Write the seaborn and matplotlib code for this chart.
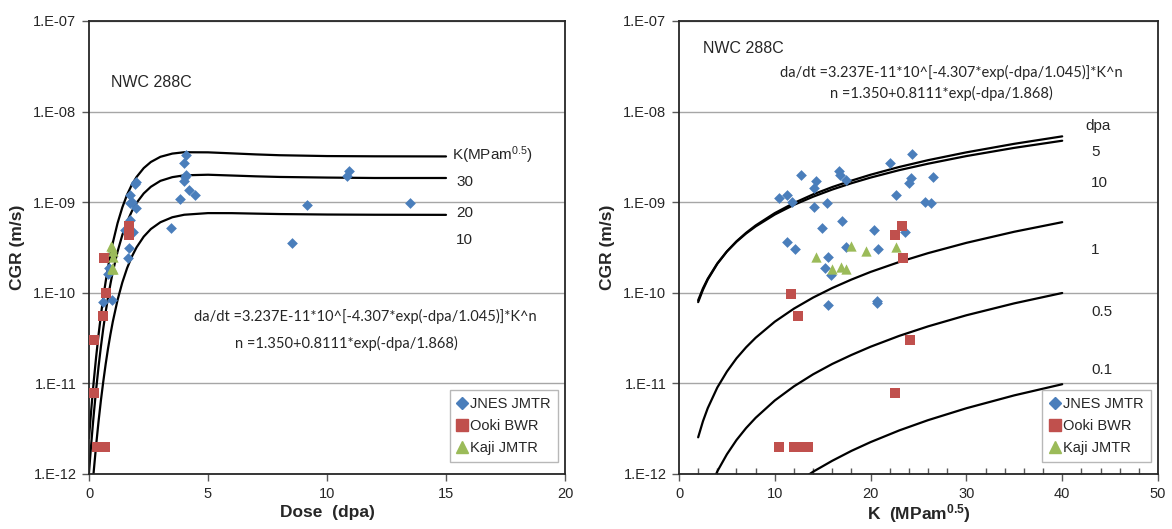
import numpy as np
import pandas as pd
import matplotlib
matplotlib.use("Agg")
import matplotlib.pyplot as plt
from matplotlib.ticker import MultipleLocator, FixedLocator, FuncFormatter, NullLocator
from matplotlib.lines import Line2D
import seaborn as sns

sns.set_style("white")
plt.rcParams["font.family"] = ["Liberation Sans", "DejaVu Sans"]
plt.rcParams["mathtext.fontset"] = "custom"
plt.rcParams["mathtext.rm"] = "Liberation Sans"
plt.rcParams["mathtext.bf"] = "Liberation Sans:bold"
plt.rcParams["mathtext.default"] = "regular"

# ---------------- scatter data: CGR vs dose ----------------
jnes_dose = [4.09, 3.98, 4.09, 4.02, 3.98, 4.20, 4.47, 3.84, 3.43, 1.96, 1.93, 1.74, 1.71, 1.82, 1.96,
             1.71, 1.50, 1.85, 1.68, 1.65, 0.80, 0.84, 0.59, 0.97, 8.55, 9.18, 10.86, 10.92, 13.47]
jnes_cgr_d = [3.36e-9, 2.69e-9, 2.0e-9, 1.89e-9, 1.7e-9, 1.37e-9, 1.19e-9, 1.08e-9, 5.2e-10, 1.66e-9, 1.6e-9,
              1.19e-9, 9.7e-10, 1.0e-9, 8.7e-10, 6.3e-10, 4.9e-10, 4.7e-10, 3.1e-10, 2.4e-10, 1.6e-10, 1.9e-10,
              7.9e-11, 8.3e-11, 3.56e-10, 9.4e-10, 1.97e-9, 2.2e-9, 9.8e-10]
ooki_dose = [1.67, 1.67, 0.62, 0.70, 0.59, 0.20, 0.20, 0.34, 0.45, 0.57, 0.69]
ooki_cgr_d = [5.4e-10, 4.3e-10, 2.4e-10, 1.0e-10, 5.6e-11, 3.05e-11, 7.9e-12, 2e-12, 2e-12, 2e-12, 2e-12]
kaji_dose = [0.94, 0.96, 1.01, 1.01, 0.98, 0.98, 0.99]
kaji_cgr_d = [3.3e-10, 3.2e-10, 2.9e-10, 2.5e-10, 1.9e-10, 1.84e-10, 1.84e-10]

# ---------------- scatter data: CGR vs K ----------------
jnes_k = [10.42, 11.26, 11.75, 12.73, 14.27, 14.12, 14.12, 15.49, 16.72, 16.79, 17.42, 17.0, 14.9, 11.26,
          12.1, 15.53, 15.25, 15.88, 17.42, 20.39, 20.78, 22.03, 24.34, 22.66, 24.24, 24.06, 23.57, 15.53,
          20.63, 20.63, 25.63, 26.33, 26.5]
jnes_cgr_k = [1.11e-9, 1.2e-9, 1.0e-9, 2.0e-9, 1.73e-9, 1.43e-9, 8.9e-10, 9.7e-10, 2.2e-9, 2.02e-9, 1.75e-9,
              6.2e-10, 5.25e-10, 3.6e-10, 3.05e-10, 2.47e-10, 1.87e-10, 1.59e-10, 3.2e-10, 4.9e-10, 3.05e-10,
              2.72e-9, 3.44e-9, 1.2e-9, 1.85e-9, 1.63e-9, 4.66e-10, 7.4e-11, 8.1e-11, 7.8e-11, 1.0e-9,
              9.7e-10, 1.9e-9]
ooki_k = [23.29, 22.52, 23.36, 11.65, 12.38, 24.13, 22.56, 10.49, 12.0, 12.76, 13.5]
ooki_cgr_k = [5.4e-10, 4.3e-10, 2.43e-10, 9.8e-11, 5.5e-11, 3.05e-11, 7.8e-12, 2e-12, 2e-12, 2e-12, 2e-12]
kaji_k = [14.27, 16.0, 16.9, 17.4, 17.94, 19.5, 22.66]
kaji_cgr_k = [2.5e-10, 1.84e-10, 1.94e-10, 1.84e-10, 3.3e-10, 2.88e-10, 3.2e-10]

# ---------------- model curves ----------------
dose_grid = [0, 0.05, 0.1, 0.15, 0.2, 0.3, 0.4, 0.5, 0.6, 0.7, 0.8, 0.9, 1.0, 1.2, 1.4, 1.6, 1.8, 2.0,
             2.3, 2.6, 3.0, 3.5, 4.0, 5, 6, 7, 8, 10, 12, 15]
cgr_k30 = [2.49e-12, 3.67e-12, 5.32e-12, 7.57e-12, 1.06e-11, 1.96e-11, 3.42e-11, 5.65e-11, 8.86e-11, 1.33e-10,
           1.91e-10, 2.65e-10, 3.56e-10, 5.87e-10, 8.76e-10, 1.21e-09, 1.56e-09, 1.9e-09, 2.38e-09, 2.78e-09,
           3.17e-09, 3.44e-09, 3.56e-09, 3.55e-09, 3.46e-09, 3.37e-09, 3.3e-09, 3.23e-09, 3.21e-09, 3.2e-09]
cgr_k20 = [1.03e-12, 1.54e-12, 2.25e-12, 3.23e-12, 4.55e-12, 8.57e-12, 1.52e-11, 2.54e-11, 4.04e-11, 6.13e-11,
           8.93e-11, 1.25e-10, 1.7e-10, 2.85e-10, 4.34e-10, 6.07e-10, 7.94e-10, 9.84e-10, 1.25e-09, 1.48e-09,
           1.72e-09, 1.89e-09, 1.98e-09, 2.01e-09, 1.97e-09, 1.93e-09, 1.9e-09, 1.87e-09, 1.85e-09, 1.85e-09]
cgr_k10 = [2.31e-13, 3.5e-13, 5.19e-13, 7.54e-13, 1.08e-12, 2.08e-12, 3.78e-12, 6.48e-12, 1.05e-11, 1.63e-11,
           2.43e-11, 3.47e-11, 4.8e-11, 8.33e-11, 1.3e-10, 1.87e-10, 2.51e-10, 3.18e-10, 4.17e-10, 5.06e-10,
           6.01e-10, 6.82e-10, 7.27e-10, 7.58e-10, 7.57e-10, 7.48e-10, 7.4e-10, 7.31e-10, 7.27e-10, 7.25e-10]

k_grid = [2, 2.5, 3, 4, 5, 6, 7, 8, 10, 12, 14, 16, 18, 20, 23, 26, 30, 35, 40]
cgr_d5 = [7.89e-11, 1.08e-10, 1.4e-10, 2.09e-10, 2.86e-10, 3.7e-10, 4.59e-10, 5.54e-10, 7.58e-10, 9.8e-10,
          1.22e-09, 1.47e-09, 1.73e-09, 2.01e-09, 2.45e-09, 2.91e-09, 3.55e-09, 4.41e-09, 5.33e-09]
cgr_d10 = [8.27e-11, 1.12e-10, 1.43e-10, 2.11e-10, 2.86e-10, 3.66e-10, 4.51e-10, 5.4e-10, 7.31e-10, 9.35e-10,
           1.15e-09, 1.38e-09, 1.62e-09, 1.87e-09, 2.26e-09, 2.66e-09, 3.23e-09, 3.98e-09, 4.77e-09]
cgr_d1 = [2.54e-12, 3.82e-12, 5.33e-12, 9.01e-12, 1.35e-11, 1.89e-11, 2.5e-11, 3.19e-11, 4.8e-11, 6.69e-11,
          8.86e-11, 1.13e-10, 1.4e-10, 1.7e-10, 2.19e-10, 2.74e-10, 3.56e-10, 4.72e-10, 6.02e-10]
cgr_d05 = [2.72e-13, 4.22e-13, 6.04e-13, 1.07e-12, 1.65e-12, 2.37e-12, 3.21e-12, 4.17e-12, 6.48e-12, 9.28e-12,
           1.26e-11, 1.64e-11, 2.06e-11, 2.54e-11, 3.35e-11, 4.26e-11, 5.65e-11, 7.65e-11, 9.95e-11]
cgr_d01 = [1.71e-14, 2.75e-14, 4.05e-14, 7.44e-14, 1.19e-13, 1.76e-13, 2.44e-13, 3.23e-13, 5.19e-13, 7.63e-13,
           1.06e-12, 1.4e-12, 1.8e-12, 2.25e-12, 3.03e-12, 3.93e-12, 5.32e-12, 7.38e-12, 9.79e-12]

k_labels = ["30", "20", "10"]
dpa_labels = ["5", "10", "1", "0.5", "0.1"]
series_labels = ["JNES JMTR", "Ooki BWR", "Kaji JMTR"]
formula_1 = "da/dt =3.237E-11*10^[-4.307*exp(-dpa/1.045)]*K^n"
formula_2 = "n =1.350+0.8111*exp(-dpa/1.868)"

BLUE, RED, GREEN = "#4A7EBB", "#C0504D", "#9BBB59"

fig = plt.figure(figsize=(11.72, 5.29), dpi=100)
ax1 = fig.add_axes([89 / 1172, 1 - 474 / 529, 476 / 1172, 453 / 529])
ax2 = fig.add_axes([679 / 1172, 1 - 474 / 529, 479 / 1172, 453 / 529])

for ax in (ax1, ax2):
    ax.set_yscale("log")

for vals in (cgr_k30, cgr_k20, cgr_k10):
    sns.lineplot(x=dose_grid, y=vals, ax=ax1, color="black", lw=1.6, sort=False, estimator=None)
for vals in (cgr_d5, cgr_d10, cgr_d1, cgr_d05, cgr_d01):
    sns.lineplot(x=k_grid, y=vals, ax=ax2, color="black", lw=1.6, sort=False, estimator=None)


def scatter(ax, x, y, marker, color, s):
    sns.scatterplot(x=x, y=y, ax=ax, marker=marker, color=color, s=s, linewidth=0, zorder=3)


scatter(ax1, jnes_dose, jnes_cgr_d, "D", BLUE, 30)
scatter(ax1, ooki_dose, ooki_cgr_d, "s", RED, 55)
scatter(ax1, kaji_dose, kaji_cgr_d, "^", GREEN, 55)
scatter(ax2, jnes_k, jnes_cgr_k, "D", BLUE, 30)
scatter(ax2, ooki_k, ooki_cgr_k, "s", RED, 55)
scatter(ax2, kaji_k, kaji_cgr_k, "^", GREEN, 55)

fmt = FuncFormatter(lambda v, p: "1.E%03d" % int(round(np.log10(v))))
for ax in (ax1, ax2):
    ax.set_ylim(1e-12, 1e-7)
    ax.yaxis.set_major_locator(FixedLocator([1e-12, 1e-11, 1e-10, 1e-9, 1e-8, 1e-7]))
    ax.yaxis.set_minor_locator(NullLocator())
    ax.yaxis.set_major_formatter(fmt)
    ax.grid(axis="y", which="major", color="#A6A6A6", lw=1.0)
    ax.grid(axis="x", visible=False)
    for sp in ax.spines.values():
        sp.set_color("#262626")
        sp.set_linewidth(1.3)
    ax.tick_params(axis="both", which="major", direction="out", length=5, width=1, color="#595959",
                   labelsize=10.5, labelcolor="#262626", bottom=True, left=True, pad=4)
    ax.set_ylabel("CGR (m/s)", fontsize=12.5, fontweight="bold", labelpad=6)
    handles = [Line2D([], [], marker="D", color=BLUE, ls="", ms=6),
               Line2D([], [], marker="s", color=RED, ls="", ms=8),
               Line2D([], [], marker="^", color=GREEN, ls="", ms=8)]
    ax.legend(handles, series_labels, loc="lower right",
              bbox_to_anchor=(0.985, 0.026), fontsize=10.5, frameon=True, fancybox=False,
              edgecolor="#A6A6A6", handlelength=0.7, handletextpad=0.2, borderpad=0.5,
              labelspacing=0.55, borderaxespad=0)

ax1.set_xlim(0, 20)
ax1.xaxis.set_major_locator(MultipleLocator(5))
ax1.set_xlabel("Dose  (dpa)", fontsize=12.5, fontweight="bold", labelpad=3)
ax2.set_xlim(0, 50)
ax2.xaxis.set_major_locator(MultipleLocator(10))
ax2.xaxis.set_minor_locator(MultipleLocator(2))
ax2.tick_params(axis="x", which="minor", direction="in", length=4, width=1, color="#595959", bottom=True)
ax2.set_xlabel(r"K  (MPam$^{\mathbf{0.5}}$)", fontsize=12.5, fontweight="bold", labelpad=1)

t1 = ax1.transAxes
t2 = ax2.transAxes
FORM = ["Lato", "DejaVu Sans"]
ax1.text(0.046, 0.865, "NWC 288C", transform=t1, fontsize=11.5, va="center", ha="left")
ax1.text(0.763, 0.704, r"K(MPam$^{0.5}$)", transform=t1, fontsize=11, va="center", ha="left")
for lab, y in zip(k_labels, [0.645, 0.576, 0.517]):
    ax1.text(0.771, y, lab, transform=t1, fontsize=11, va="center", ha="left")
ax1.text(0.58, 0.347, formula_1, transform=t1, fontsize=10.5, va="center", ha="center", family=FORM)
ax1.text(0.54, 0.289, formula_2, transform=t1, fontsize=10.5, va="center", ha="center", family=FORM)

ax2.text(0.050, 0.94, "NWC 288C", transform=t2, fontsize=11.5, va="center", ha="left")
ax2.text(0.568, 0.887, formula_1, transform=t2, fontsize=10.5, va="center", ha="center", family=FORM)
ax2.text(0.547, 0.839, formula_2, transform=t2, fontsize=10.5, va="center", ha="center", family=FORM)
ax2.text(0.848, 0.768, "dpa", transform=t2, fontsize=11, va="center", ha="left")
for lab, y in zip(dpa_labels, [0.711, 0.642, 0.494, 0.357, 0.230]):
    ax2.text(0.860, y, lab, transform=t2, fontsize=11, va="center", ha="left")

fig.savefig("out.png", dpi=100)
